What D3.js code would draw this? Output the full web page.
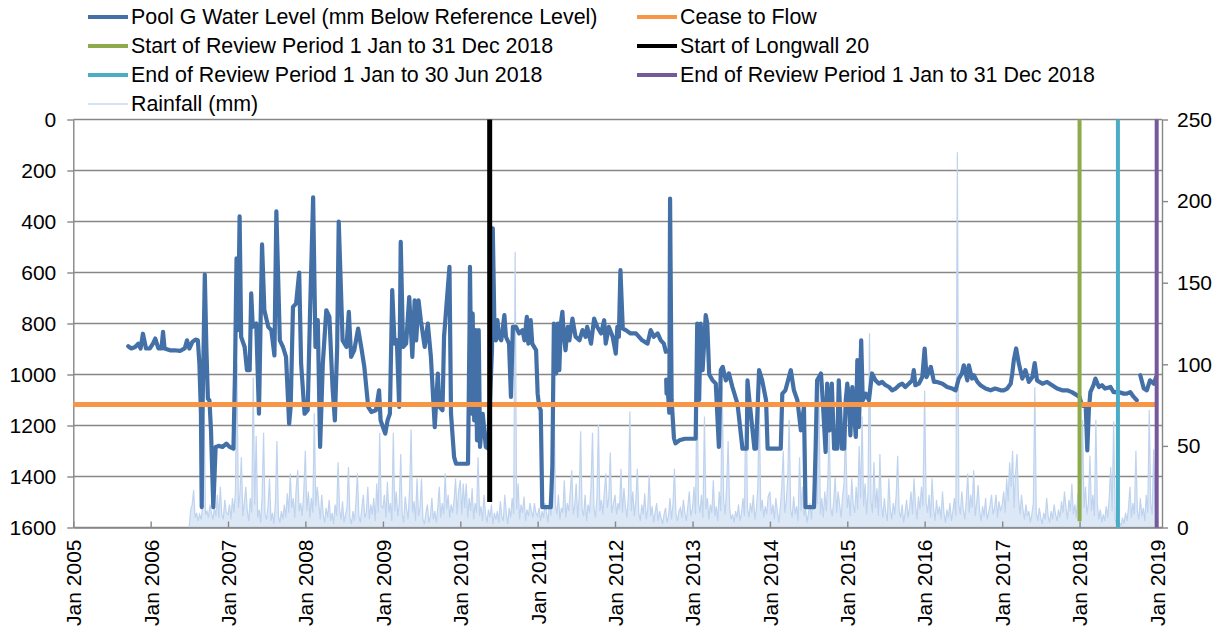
<!DOCTYPE html>
<html><head><meta charset="utf-8">
<script src="https://cdn.jsdelivr.net/npm/d3@7"></script>
<style>
body{margin:0;background:#fff}
text{font-family:"Liberation Sans",Arial,sans-serif;}
</style>
</head><body>
<svg id="c" width="1224" height="634"></svg>
<script>
// ---------- DATA ----------
const yearTicks = [2005,2006,2007,2008,2009,2010,2011,2012,2013,2014,2015,2016,2017,2018,2019];
const leftTicks = [0,200,400,600,800,1000,1200,1400,1600];
const rightTicks = [0,50,100,150,200,250];

// Pool G water level: [decimal year, mm below reference level]; null = gap
const poolGLevel = [
[2005.71,889],[2005.75,898],[2005.80,892],[2005.84,879],[2005.87,898],[2005.90,840],[2005.94,898],[2005.99,898],
[2006.03,879],[2006.06,859],[2006.10,898],[2006.14,898],[2006.16,833],[2006.18,898],[2006.25,905],[2006.31,905],
[2006.38,907],[2006.44,898],[2006.47,866],[2006.50,898],[2006.54,872],[2006.58,863],[2006.61,866],[2006.63,957],
[2006.65,1154],[2006.66,1520],[2006.67,1154],[2006.70,608],[2006.72,892],[2006.74,1095],[2006.76,1101],[2006.78,1219],
[2006.81,1520],[2006.83,1363],[2006.84,1284],[2006.88,1280],[2006.93,1284],[2006.98,1271],[2007.02,1284],[2007.07,1291],
[2007.09,997],[2007.11,545],[2007.13,826],[2007.15,380],[2007.17,853],[2007.215,892],[2007.245,983],[2007.28,983],
[2007.30,682],[2007.32,813],[2007.365,800],[2007.40,1154],[2007.42,813],[2007.44,490],[2007.47,748],[2007.52,813],
[2007.56,826],[2007.60,925],[2007.625,360],[2007.67,866],[2007.71,892],[2007.75,931],[2007.79,1193],[2007.81,1127],
[2007.84,735],[2007.88,722],[2007.92,600],[2007.945,957],[2007.99,1154],[2008.03,1140],[2008.06,761],[2008.10,305],
[2008.13,892],[2008.16,787],[2008.19,1284],[2008.225,957],[2008.27,748],[2008.31,774],[2008.35,1049],[2008.38,1180],
[2008.41,892],[2008.43,400],[2008.48,866],[2008.53,892],[2008.56,754],[2008.59,931],[2008.63,905],[2008.68,820],
[2008.72,892],[2008.76,970],[2008.81,1127],[2008.85,1147],[2008.91,1140],[2008.95,1062],[2008.97,1180],[2009.0,1206],
[2009.03,1232],[2009.06,1180],[2009.09,1154],[2009.12,669],[2009.15,879],[2009.18,866],[2009.21,1127],[2009.23,480],
[2009.26,892],[2009.30,879],[2009.34,696],[2009.38,931],[2009.41,709],[2009.43,866],[2009.46,709],[2009.49,787],
[2009.54,892],[2009.58,800],[2009.62,931],[2009.67,1206],[2009.71,996],[2009.73,1127],[2009.77,1140],[2009.79,852],
[2009.86,578],[2009.88,1154],[2009.92,1324],[2009.945,1350],[2010.10,1350],[2010.12,800],[2010.125,578],[2010.147,1154],
[2010.16,761],[2010.18,1180],[2010.20,826],[2010.216,1258],[2010.238,826],[2010.255,1284],[2010.29,1154],[2010.33,1284],
[2010.36,1290],[2010.41,900],[2010.42,427],[2010.44,787],[2010.46,866],[2010.48,787],[2010.50,852],[2010.53,866],
[2010.57,767],[2010.59,852],[2010.63,879],[2010.655,1088],[2010.68,813],[2010.72,813],[2010.76,839],[2010.805,826],
[2010.83,866],[2010.86,774],[2010.88,879],[2010.91,787],[2010.93,879],[2010.98,905],[2011.0,1075],[2011.02,1127],
[2011.04,1140],[2011.06,1520],[2011.17,1520],[2011.19,1363],[2011.21,800],[2011.24,996],[2011.26,800],[2011.28,983],
[2011.30,800],[2011.32,754],[2011.34,852],[2011.36,905],[2011.39,813],[2011.41,866],[2011.45,781],[2011.49,852],
[2011.54,866],[2011.58,826],[2011.62,852],[2011.64,813],[2011.69,879],[2011.73,781],[2011.77,813],[2011.82,839],
[2011.86,787],[2011.88,879],[2011.92,813],[2011.97,852],[2012.01,918],[2012.03,813],[2012.05,852],[2012.07,591],
[2012.10,820],[2012.14,826],[2012.20,839],[2012.27,839],[2012.35,866],[2012.42,879],[2012.46,826],[2012.50,852],
[2012.55,839],[2012.59,866],[2012.63,879],[2012.655,911],[2012.657,null],[2012.66,1020],[2012.665,1075],[2012.68,1060],
[2012.70,1150],[2012.71,310],[2012.73,1100],[2012.76,1250],[2012.78,1270],[2012.83,1258],[2012.90,1252],[2013.04,1252],
[2013.06,800],[2013.085,1100],[2013.105,800],[2013.13,983],[2013.17,767],[2013.19,800],[2013.215,1000],[2013.26,1023],
[2013.30,1036],[2013.34,1284],[2013.365,983],[2013.39,970],[2013.43,1023],[2013.47,996],[2013.515,1049],[2013.58,1114],
[2013.60,1167],[2013.645,1291],[2013.70,1291],[2013.71,1023],[2013.73,1088],[2013.80,1291],[2013.82,1291],[2013.86,983],
[2013.90,1023],[2013.95,1101],[2013.97,1291],[2014.14,1291],[2014.16,1075],[2014.20,1062],[2014.27,983],[2014.31,1062],
[2014.355,1101],[2014.40,1219],[2014.44,1127],[2014.46,1520],[2014.57,1520],[2014.59,1300],[2014.61,1023],[2014.66,996],
[2014.68,1088],[2014.72,1304],[2014.74,1036],[2014.77,1219],[2014.80,1036],[2014.83,1291],[2014.87,1291],[2014.89,1023],
[2014.93,1291],[2014.96,1291],[2014.98,1101],[2015.0,1036],[2015.02,1088],[2015.04,1239],[2015.065,1049],[2015.11,1245],
[2015.13,944],[2015.15,1206],[2015.18,866],[2015.20,1101],[2015.24,1075],[2015.28,1101],[2015.32,996],[2015.365,1023],
[2015.41,1036],[2015.45,1029],[2015.495,1042],[2015.54,1049],[2015.58,1062],[2015.625,1055],[2015.67,1042],[2015.71,1036],
[2015.75,1049],[2015.795,1036],[2015.84,1023],[2015.86,983],[2015.88,1042],[2015.925,1036],[2015.97,1010],[2016.0,898],
[2016.025,1010],[2016.08,970],[2016.12,1029],[2016.16,1029],[2016.23,1036],[2016.29,1049],[2016.355,1055],[2016.40,1062],
[2016.44,1016],[2016.48,996],[2016.505,964],[2016.55,1023],[2016.57,964],[2016.61,1016],[2016.635,1003],[2016.68,1029],
[2016.72,1042],[2016.785,1055],[2016.85,1062],[2016.91,1055],[2016.98,1062],[2017.02,1062],[2017.065,1055],[2017.11,1036],
[2017.13,996],[2017.15,944],[2017.18,898],[2017.215,957],[2017.26,1016],[2017.30,983],[2017.345,1029],[2017.39,1010],
[2017.42,955],[2017.45,1023],[2017.52,1036],[2017.58,1029],[2017.645,1042],[2017.71,1055],[2017.775,1062],[2017.84,1062],
[2017.90,1069],[2017.97,1082],[2018.0,1088],[2018.03,1121],[2018.08,1127],[2018.10,1298],[2018.12,1140],[2018.14,1069],
[2018.18,1042],[2018.205,1016],[2018.25,1049],[2018.29,1042],[2018.33,1055],[2018.40,1049],[2018.44,1069],[2018.505,1069],
[2018.57,1075],[2018.61,1075],[2018.655,1069],[2018.70,1088],[2018.74,1101],[2018.76,null],[2018.785,1003],[2018.83,1055],
[2018.87,1062],[2018.91,1023],[2018.96,1036],[2018.99,1010]
];

const ceaseToFlow = [[2005.0,1118],[2019.0,1118]];
const longwall20 = [[2010.38,0],[2010.38,1500]];
const reviewStartJan2018 = [[2018.0,0],[2018.0,1575]];
const reviewEndJun2018 = [[2018.496,0],[2018.496,1600]];
const reviewEndDec2018 = [[2018.997,0],[2018.997,1600]];

// Rainfall (mm), weekly readings per calendar year; 2006 starts at week 26
const rain2006 = [0,11,14,23,6,9,4,8,5,12,76,8,10,6,14,9,5,12,7,20,6,25,8,5,17,9];
const rain2007 = [8,14,5,18,9,22,100,12,20,43,7,15,25,10,4,18,9,92,14,56,6,11,3,19,58,8,5,13,30,4,9,2,16,53,7,3,10,5,14,6,21,9,33,12,18,6,24,35,10,15,7,20];
const rain2008 = [47,10,22,6,18,9,70,13,25,15,5,20,8,3,12,6,17,4,9,2,14,7,40,11,5,16,3,8,12,37,6,2,10,4,15,33,7,3,12,20,6,9,25,5,14,8,18,4,27,9,58,13];
const rain2009 = [12,20,6,28,9,15,4,58,10,22,7,14,45,8,3,19,11,5,24,60,9,16,4,30,7,12,30,5,2,9,14,3,7,18,5,10,3,12,25,6,15,8,33,11,20,6,14,9,17,30,8,22];
const rain2010 = [29,8,27,12,27,6,18,10,24,5,15,9,43,7,13,4,20,8,3,11,6,14,2,9,5,10,3,16,7,4,20,9,2,12,6,18,8,169,11,27,5,14,9,19,4,11,7,15,10,6,15,9];
const rain2011 = [7,12,4,10,6,15,9,3,18,7,25,86,14,8,20,5,12,9,29,6,15,10,22,35,8,13,27,6,18,59,11,7,20,4,14,9,25,58,12,6,19,63,10,17,8,22,33,12,18,46,9,14];
const rain2012 = [20,8,15,11,36,9,24,13,6,19,71,10,22,7,16,36,9,4,14,8,21,5,11,32,7,13,3,9,15,4,10,6,2,8,12,3,7,18,5,14,36,8,4,10,12,6,17,9,4,13,22,7];
const rain2013 = [12,25,8,90,15,9,20,6,68,11,18,5,14,9,29,7,13,4,22,10,87,16,8,26,53,12,5,8,3,10,6,14,4,9,18,7,88,12,6,15,9,20,5,11,24,76,10,17,6,13,8,19];
const rain2014 = [22,8,14,5,18,10,3,12,25,47,9,16,30,66,11,6,19,8,13,4,43,10,25,7,12,3,9,15,5,20,11,43,14,92,8,18,6,22,10,28,60,12,7,16,31,9,22,14,6,19,27,60];
const rain2015 = [12,20,7,30,14,9,25,11,50,18,68,13,27,8,22,119,16,9,40,12,24,7,45,14,6,18,9,4,30,11,5,15,8,20,44,10,6,14,3,9,17,6,12,22,8,30,14,5,19,11,25,13];
const rain2016 = [84,15,9,20,6,30,12,4,17,8,13,5,22,9,3,11,6,15,4,10,18,7,230,14,8,22,11,5,16,33,9,20,12,35,7,15,26,10,4,13,7,18,5,9,14,20,8,12,20,6,16,10];
const rain2017 = [14,22,9,30,16,40,25,47,12,33,45,18,8,20,11,5,14,7,10,3,8,15,86,9,4,12,6,2,9,5,18,7,3,10,5,14,8,4,11,6,16,9,22,12,5,17,10,27,8,14,6,20];
const rain2018 = [18,9,66,12,25,8,15,44,10,20,7,66,14,5,11,3,8,4,13,6,18,37,10,65,5,2,0,3,1,6,2,9,4,12,25,6,15,8,47,10,5,18,7,12,4,20,9,72,14,8,48,11];
const rainfallYears = [2006,2007,2008,2009,2010,2011,2012,2013,2014,2015,2016,2017,2018];
const rainfallWeekly = [rain2006,rain2007,rain2008,rain2009,rain2010,rain2011,rain2012,rain2013,rain2014,rain2015,rain2016,rain2017,rain2018];
const rainfallFirstWeek = [26,0,0,0,0,0,0,0,0,0,0,0,0];

// ---------- CHART ----------
const svg = d3.select('#c');
const toDate = v => { const yr = Math.floor(v); const s = new Date(yr,0,1), e = new Date(yr+1,0,1); return new Date(+s + (v-yr)*(e-s)); };

const L = 73.3, R = 1162, T = 119.5, B = 527.5;
const x = d3.scaleTime().domain([new Date(2005,0,1), new Date(2019,0,25)]).range([L,R]);
const yL = d3.scaleLinear().domain([0,1600]).range([T,B]);
const yR = d3.scaleLinear().domain([0,250]).range([B,T]);

const gridCol = '#878787';
const FS = '21px';

// gridlines
svg.append('g').selectAll('line').data(leftTicks).join('line')
  .attr('x1',L).attr('x2',R).attr('y1',d=>yL(d)).attr('y2',d=>yL(d))
  .attr('stroke',gridCol).attr('stroke-width',1.4);

// rainfall
const rainPts = [];
rainfallYears.forEach((yr,k)=>{
  rainfallWeekly[k].forEach((v,i)=>{
    rainPts.push([yr + (rainfallFirstWeek[k]+i)*7/365.25, v]);
  });
});
const rainArea = d3.area().x(d=>x(toDate(d[0]))).y0(yR(0)).y1(d=>yR(d[1]));
svg.append('path').datum(rainPts).attr('d',rainArea).attr('fill','#c6d9f1').attr('opacity',0.6);
svg.append('path').datum(rainPts).attr('d',d3.line().x(d=>x(toDate(d[0]))).y(d=>yR(d[1])))
  .attr('fill','none').attr('stroke','#bfd3ee').attr('stroke-width',1.2);

// axes
function styleAxis(g){
  g.select('.domain').attr('stroke',gridCol).attr('stroke-width',1.4);
  g.selectAll('.tick line').attr('stroke',gridCol).attr('stroke-width',1.4);
  g.selectAll('.tick text').attr('fill','#000').style('font-size',FS).style('font-family','"Liberation Sans",Arial,sans-serif');
}
const gl = svg.append('g').attr('transform',`translate(${L},0)`)
  .call(d3.axisLeft(yL).tickValues(leftTicks).tickFormat(d3.format('d')).tickSize(6).tickSizeOuter(0).tickPadding(11));
styleAxis(gl);
const gr = svg.append('g').attr('transform',`translate(${R},0)`)
  .call(d3.axisRight(yR).tickValues(rightTicks).tickFormat(d3.format('d')).tickSize(6).tickSizeOuter(0).tickPadding(9));
styleAxis(gr);
const fmt = d3.timeFormat('Jan %Y');
const gb = svg.append('g').attr('transform',`translate(0,${B})`)
  .call(d3.axisBottom(x).tickValues(yearTicks.map(y=>new Date(y,0,1))).tickFormat(fmt).tickSize(-6).tickSizeOuter(0));
styleAxis(gb);
gb.selectAll('.tick text').attr('y',0).attr('x',-12).attr('dy','0.35em')
  .attr('transform','rotate(-90)').style('text-anchor','end');

// lines
const lineGen = d3.line().defined(d=>d[1]!==null).x(d=>x(toDate(d[0]))).y(d=>yL(d[1]));
svg.append('path').datum(poolGLevel).attr('d',lineGen).attr('fill','none')
  .attr('stroke','#4470a8').attr('stroke-width',4.2).attr('stroke-linejoin','round').attr('stroke-linecap','round');

const refLines = [
  {data:ceaseToFlow, col:'#f79646', w:5},
  {data:reviewStartJan2018, col:'#8eab4c', w:4},
  {data:longwall20, col:'#000000', w:5},
  {data:reviewEndJun2018, col:'#4bacc6', w:4},
  {data:reviewEndDec2018, col:'#76599b', w:4}
];
refLines.forEach(r=>{
  svg.append('path').datum(r.data).attr('d',lineGen).attr('fill','none')
    .attr('stroke',r.col).attr('stroke-width',r.w);
});

// legend
const legendItems = [
  {t:'Pool G Water Level (mm Below Reference Level)', col:'#4470a8', w:4, c:0, r:0},
  {t:'Cease to Flow', col:'#f79646', w:4, c:1, r:0},
  {t:'Start of Review Period 1 Jan to 31 Dec 2018', col:'#8eab4c', w:4, c:0, r:1},
  {t:'Start of Longwall 20', col:'#000000', w:4, c:1, r:1},
  {t:'End of Review Period 1 Jan to 30 Jun 2018', col:'#4bacc6', w:4, c:0, r:2},
  {t:'End of Review Period 1 Jan to 31 Dec 2018', col:'#76599b', w:4, c:1, r:2},
  {t:'Rainfall (mm)', col:'#c6d9f1', w:1.5, c:0, r:3}
];
const colX = [88, 637], rowY = [17, 46, 75, 104];
const lg = svg.append('g');
legendItems.forEach(it=>{
  const lx = colX[it.c], ly = rowY[it.r];
  lg.append('line').attr('x1',lx).attr('x2',lx+40).attr('y1',ly).attr('y2',ly)
    .attr('stroke',it.col).attr('stroke-width',it.w);
  lg.append('text').attr('x',lx+43).attr('y',ly).attr('dy','0.35em')
    .style('font-size','21.4px').attr('fill','#000').text(it.t);
});
</script>
</body></html>
